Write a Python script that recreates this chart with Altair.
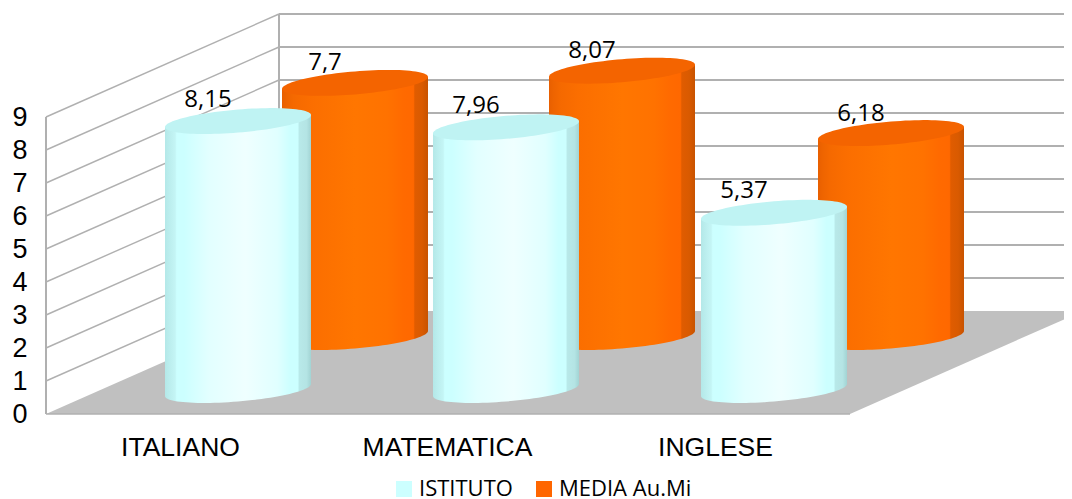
import math
import altair as alt
import pandas as pd

categories = ["ITALIANO", "MATEMATICA", "INGLESE"]
istituto = [8.15, 7.96, 5.37]
media = [7.7, 8.07, 6.18]
y_ticks = list(range(0, 10))
series_names = ["ISTITUTO", "MEDIA Au.Mi"]
series_colors = ["#ccffff", "#ff6600"]

# Horizontal scale runs in chart units equal to pixels; vertical scale is in data values.
PX = 33.0
X0, X_BACK, X_FRONT_END, X1 = 46, 279, 850, 1064
X_DEPTH_END = X_FRONT_END + (X_BACK - X0)
DEPTH = 103 / PX
PLOT_H = 406
label_x = [180, 447, 715]
aqua_cx = [238, 506, 774]
orange_cx = [355, 622, 891]
R_X, SKEW, R_Y = 73, 6 / PX, 11.5 / PX
BASE_AQUA = 24 / PX
BASE_ORANGE = 77 / PX

x_scale = alt.Scale(domain=[X0, X1], nice=False, zero=False)
y_scale = alt.Scale(domain=[0, PLOT_H / PX], nice=False, zero=False)
label_expr = " : ".join(f"datum.value == {x} ? '{c}'" for x, c in zip(label_x, categories)) + " : ''"
x_axis = alt.Axis(
    values=label_x, labelExpr=label_expr, domain=False, ticks=False, grid=False, title=None,
    labelFont="Liberation Sans", labelFontSize=26.5, labelColor="#000000",
    labelPadding=20, labelFlush=False, labelOverlap=False, labelAngle=0)
y_axis = alt.Axis(
    values=y_ticks, format="d", domain=False, ticks=False, grid=False, title=None,
    labelFont="Liberation Sans", labelFontSize=27, labelColor="#000000",
    labelPadding=19, labelOverlap=False)
X = lambda f="x": alt.X(f"{f}:Q", scale=x_scale, axis=x_axis)
Y = lambda f="y": alt.Y(f"{f}:Q", scale=y_scale, axis=y_axis)


def grad(stops):
    return alt.Gradient(
        gradient="linear", x1=0, x2=1, y1=0, y2=0,
        stops=[alt.GradientStop(offset=o, color=c) for o, c in stops],
    )


aqua_stops = [(0, "#b4e8e8"), (0.07, "#c4f5f5"), (0.08, "#ccffff"), (0.13, "#ccffff"),
              (0.3, "#e2ffff"), (0.55, "#efffff"), (0.77, "#e0ffff"), (0.86, "#ccffff"),
              (0.91, "#ccffff"), (0.92, "#b8e9e9"), (0.97, "#b4e4e4"), (1, "#a2d4d4")]
orange_stops = [(0, "#e85f00"), (0.03, "#ee6400"), (0.08, "#f56900"), (0.2, "#fb6e00"),
                (0.5, "#ff7600"), (0.72, "#ff7200"), (0.83, "#ff6a00"), (0.9, "#ff6800"),
                (0.91, "#e05c00"), (0.96, "#d95a00"), (1, "#c85300")]


def angles(n=48):
    return [math.pi * (n - i) / n for i in range(n + 1)]


def body(cx, value, base):
    rows = []
    for t in angles():
        c, s = math.cos(t), math.sin(t)
        rows.append({"x": cx + R_X * c,
                     "y": base + value + SKEW * c,
                     "y2": base + SKEW * c - R_Y * s})
    return pd.DataFrame(rows)


def cap(cx, value, base):
    rows = []
    for t in angles():
        c, s = math.cos(t), math.sin(t)
        rows.append({"x": cx + R_X * c,
                     "y": base + value + SKEW * c + R_Y * s,
                     "y2": base + value + SKEW * c - R_Y * s})
    return pd.DataFrame(rows)


def area_layer(df, fill):
    return alt.Chart(df).mark_area(color=fill, orient="vertical", interpolate="linear").encode(
        x=X(), y=Y(), y2=alt.Y2("y2:Q"))


def rule_layer(df, color="#b0b0b0", width=1.8):
    return alt.Chart(df).mark_rule(color=color, strokeWidth=width).encode(
        x=X(), x2=alt.X2("x2:Q"), y=Y(), y2=alt.Y2("y2:Q"))


ticks = [v for v in y_ticks if v > 0]
side = pd.DataFrame({"x": X0, "x2": X_BACK, "y": ticks, "y2": [v + DEPTH for v in ticks]})
back = pd.DataFrame({"x": X_BACK, "x2": X1, "y": [v + DEPTH for v in ticks],
                     "y2": [v + DEPTH for v in ticks]})
verticals = pd.DataFrame({"x": [X0, X_BACK], "x2": [X0, X_BACK],
                          "y": [0, DEPTH], "y2": [9, 9 + DEPTH]})
front_edge = pd.DataFrame({"x": [X0], "x2": [X_FRONT_END], "y": [0.0], "y2": [0.0]})
floor = pd.DataFrame({
    "x": [X0, X_BACK, X_FRONT_END, X1],
    "y": [0, DEPTH, DEPTH, DEPTH],
    "y2": [0, 0, 0, (X1 - X_FRONT_END) / (X_DEPTH_END - X_FRONT_END) * DEPTH],
})

layers = [rule_layer(side, width=1.4), rule_layer(back),
          rule_layer(verticals, width=2), area_layer(floor, "#c0c0c0"),
          rule_layer(front_edge, width=1.5)]

for cx, v in zip(orange_cx, media):
    layers += [area_layer(body(cx, v, BASE_ORANGE), grad(orange_stops)),
               area_layer(cap(cx, v, BASE_ORANGE), "#f46400")]
for cx, v in zip(aqua_cx, istituto):
    layers += [area_layer(body(cx, v, BASE_AQUA), grad(aqua_stops)),
               area_layer(cap(cx, v, BASE_AQUA), "#bff3f3")]

text_rows = []
for cx, v in zip(orange_cx, media):
    text_rows.append({"x": cx - 30, "y": v + BASE_ORANGE + 19.5 / PX, "t": str(v).replace(".", ",")})
for cx, v in zip(aqua_cx, istituto):
    text_rows.append({"x": cx - 30, "y": v + BASE_AQUA + 21.5 / PX, "t": str(v).replace(".", ",")})
layers.append(alt.Chart(pd.DataFrame(text_rows)).mark_text(
    font="Open Sans", fontSize=24, color="#000000", align="center", baseline="middle"
).encode(x=X(), y=Y(), text="t:N"))

legend_df = pd.DataFrame({"s": series_names, "x": [500, 500], "y": [1, 1]})
layers.append(alt.Chart(legend_df).mark_point(filled=True, size=0, opacity=0).encode(
    x=X(), y=Y(),
    color=alt.Color("s:N", scale=alt.Scale(domain=series_names, range=series_colors),
                    legend=alt.Legend(
                        title=None, orient="none", legendX=347, legendY=470, direction="horizontal",
                        symbolType="square", symbolSize=256, symbolOpacity=1, symbolStrokeWidth=0,
                        labelFont="Open Sans", labelFontSize=22, labelColor="#000000",
                        labelOffset=4, columnPadding=20, padding=0)),
))

chart = alt.layer(*layers).properties(
    width=X1 - X0, height=PLOT_H,
    autosize=alt.AutoSizeParams(type="none"),
    padding={"left": 38, "top": 0, "right": 0, "bottom": 85},
).configure_view(stroke=None)

chart.save("out.html", embed_options={"renderer": "svg", "actions": False})
